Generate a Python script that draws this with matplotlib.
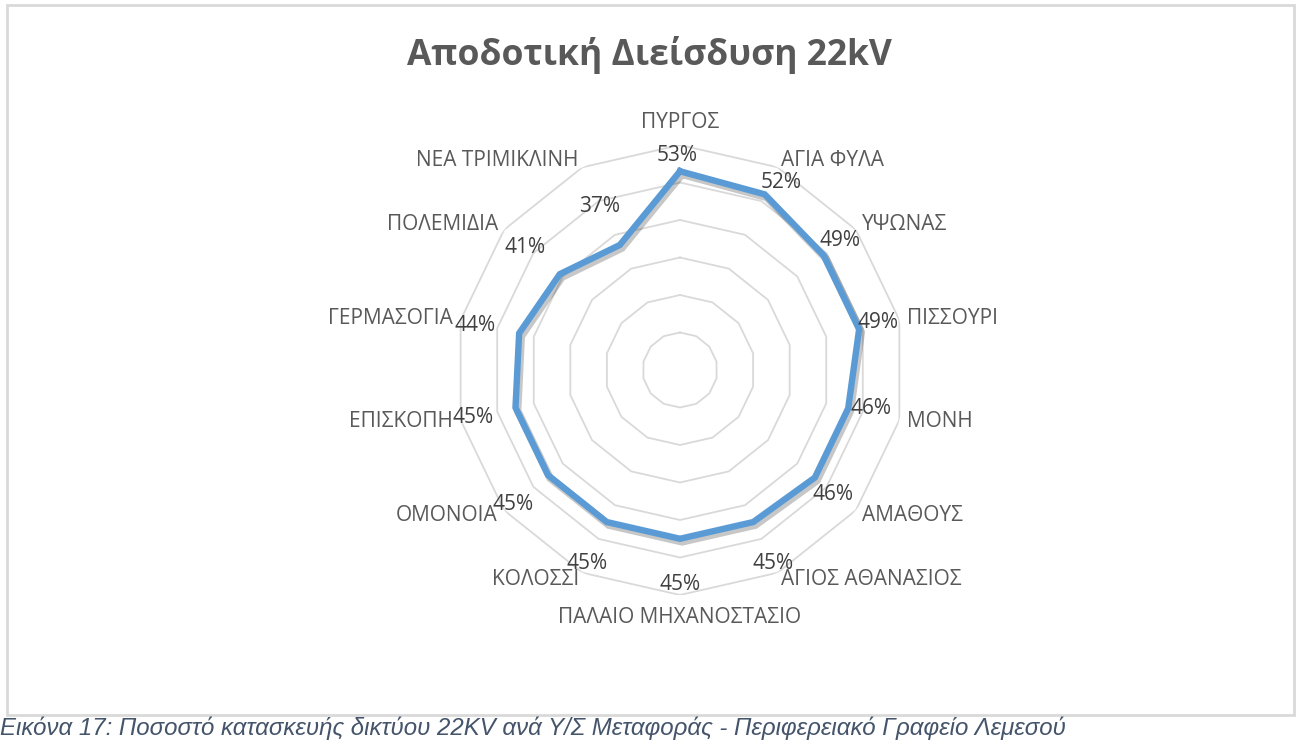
import numpy as np
import matplotlib
matplotlib.use("Agg")
import matplotlib.pyplot as plt
import matplotlib.patheffects as pe
from matplotlib.patches import Rectangle

# substations, clockwise from the top
categories = [
    "ΠΥΡΓΟΣ", "ΑΓΙΑ ΦΥΛΑ", "ΥΨΩΝΑΣ", "ΠΙΣΣΟΥΡΙ", "ΜΟΝΗ", "ΑΜΑΘΟΥΣ",
    "ΑΓΙΟΣ ΑΘΑΝΑΣΙΟΣ", "ΠΑΛΑΙΟ ΜΗΧΑΝΟΣΤΑΣΙΟ", "ΚΟΛΟΣΣΙ", "ΟΜΟΝΟΙΑ",
    "ΕΠΙΣΚΟΠΗ", "ΓΕΡΜΑΣΟΓΙΑ", "ΠΟΛΕΜΙΔΙΑ", "ΝΕΑ ΤΡΙΜΙΚΛΙΝΗ",
]
penetration = [0.53, 0.52, 0.49, 0.49, 0.46, 0.46, 0.45,
               0.45, 0.45, 0.45, 0.45, 0.44, 0.41, 0.37]
ring_levels = [0.1, 0.2, 0.3, 0.4, 0.5, 0.6]

# where each percentage label sits relative to its point (pixels)
value_label_offsets = [
    (-3, 16), (17, 12), (16, 15), (19, 7), (23, 0), (18, -17), (20, -41),
    (0, -46), (-20, -41), (-35, -29), (-42, -10), (-44, 8), (-35, 27), (-20, 38),
]

TITLE = "Αποδοτική Διείσδυση 22kV"
CAPTION = ("Εικόνα 17: Ποσοστό κατασκευής δικτύου 22KV ανά Υ/Σ Μεταφοράς"
           " - Περιφερειακό Γραφείο Λεμεσού")

W, H = 1297, 740
fig = plt.figure(figsize=(W / 100, H / 100), dpi=100)
fig.patch.set_facecolor("white")

# light grey chart-area border
fig.patches.append(Rectangle((7 / W, 1 - 715 / H), (1294 - 7) / W, (715 - 5) / H,
                             transform=fig.transFigure, fill=False,
                             edgecolor="#D9D9D9", linewidth=2))

cx, cy, R = 680, 370, 225
ax = fig.add_axes([(cx - R) / W, (H - cy - R) / H, 2 * R / W, 2 * R / H],
                  projection="polar")
ax.set_theta_zero_location("N")
ax.set_theta_direction(-1)
ax.set_ylim(0, 0.6)
ax.grid(False)
ax.set_xticks([])
ax.set_yticks([])
ax.spines["polar"].set_visible(False)
ax.patch.set_alpha(0)

n = len(categories)
theta = np.arange(n) * 2 * np.pi / n
theta_closed = np.append(theta, theta[0])

for lvl in ring_levels:
    ax.plot(theta_closed, [lvl] * (n + 1), color="#D9D9D9", lw=1.3, zorder=1)

vals_closed = np.append(penetration, penetration[0])
ax.plot(theta_closed, vals_closed, color="#5B9BD5", lw=4.6, zorder=3,
        solid_joinstyle="miter",
        path_effects=[pe.SimpleLineShadow(offset=(1.5, -2.2), shadow_color="black",
                                          alpha=0.22, linewidth=5.5),
                      pe.Normal()])

label_font = ["Open Sans", "DejaVu Sans"]

# category names just outside the outer ring
for t, name in zip(theta, categories):
    ux, uy = np.sin(t), np.cos(t)
    if abs(ux) < 0.01:
        ha = "center"
        va = "bottom" if uy > 0 else "top"
        off = (0, 12 if uy > 0 else -12)
    else:
        ha = "left" if ux > 0 else "right"
        va = "center"
        off = (8 * ux, 8 * uy)
    ax.annotate(name, xy=(t, 0.6), xytext=off, textcoords="offset pixels",
                ha=ha, va=va, fontsize=15, color="#595959", family=label_font,
                annotation_clip=False)

for t, v, (dx, dy) in zip(theta, penetration, value_label_offsets):
    ax.annotate(f"{v:.0%}", xy=(t, v), xytext=(dx, dy), textcoords="offset pixels",
                ha="center", va="center", fontsize=15, color="#404040",
                family=label_font, annotation_clip=False, zorder=4)

fig.text(649 / W, 1 - 55 / H, TITLE, ha="center", va="center", fontsize=25.5,
         fontweight="bold", color="#595959", family=["Open Sans", "DejaVu Sans"])

fig.text(0 / W, 1 - 728 / H, CAPTION, ha="left", va="center", fontsize=17.3,
         style="italic", color="#44546A", family=["Liberation Sans", "DejaVu Sans"])

fig.savefig("out.png", dpi=100, facecolor="white")
